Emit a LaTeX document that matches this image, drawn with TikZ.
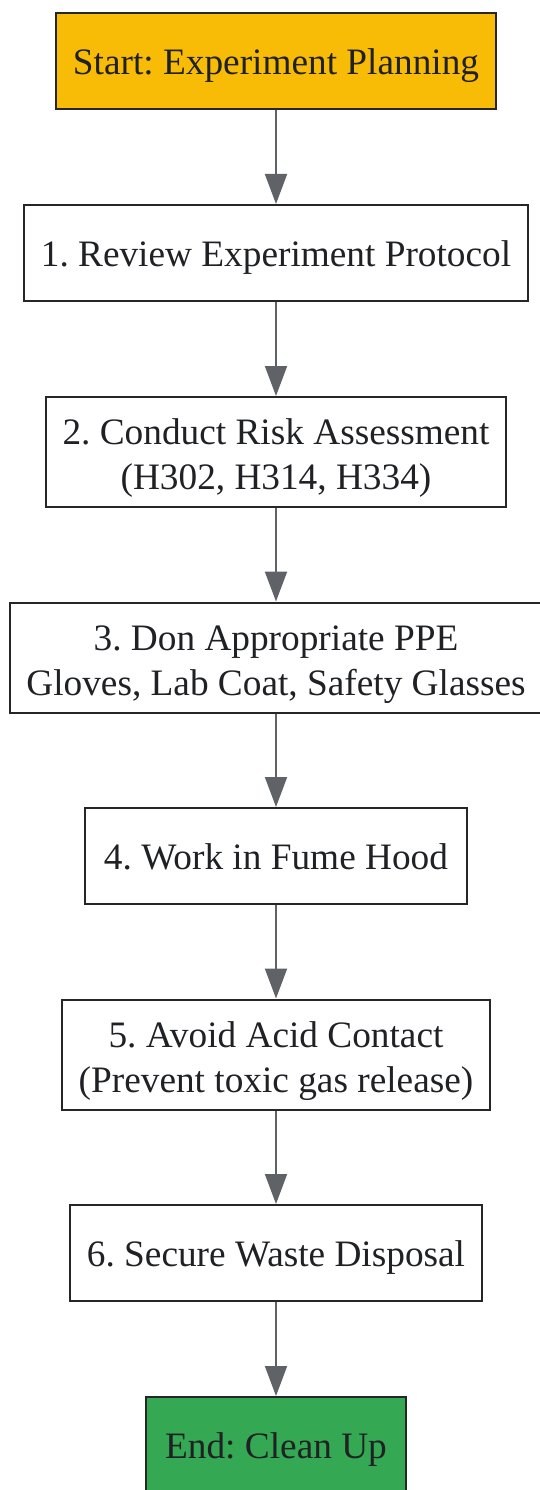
\documentclass[tikz,border=0pt]{standalone}
\usepackage{fontspec}
\setmainfont{Liberation Serif}
\usetikzlibrary{arrows.meta}
\frenchspacing
\definecolor{boxborder}{HTML}{262626}
\definecolor{txt}{HTML}{202124}
\definecolor{arrowgray}{HTML}{5F6368}
\definecolor{startyellow}{HTML}{F9BC06}
\definecolor{endgreen}{HTML}{34A853}
\tikzset{
  stepbox/.style={draw=boxborder, line width=2pt, fill=white, text=txt, align=center,
    font=\fontsize{37.3}{45}\selectfont\frenchspacing, inner sep=0pt, minimum height=96pt,
    text height=27pt, text depth=0pt},
  twoline/.style={minimum height=110pt, text height=75pt},
  flow/.style={draw=arrowgray, line width=2pt, -{Triangle[length=30pt,width=22pt]}, shorten >=0pt}
}
\begin{document}
\begin{tikzpicture}[x=1pt,y=1pt]
\useasboundingbox (0,0) rectangle (540,-1490);
\node[stepbox, fill=startyellow, minimum width=440pt] (s) at (276,-61) {Start: Experiment Planning};
\node[stepbox, minimum width=504pt] (b1) at (276,-253) {1. Review Experiment Protocol};
\node[stepbox, twoline, minimum width=460pt] (b2) at (276,-452) {2. Conduct Risk Assessment\\(H302, H314, H334)};
\node[stepbox, twoline, minimum width=532pt] (b3) at (276,-657.5) {3. Don Appropriate PPE\\Gloves, Lab Coat, Safety Glasses};
\node[stepbox, minimum width=382pt] (b4) at (276,-856) {4. Work in Fume Hood};
\node[stepbox, twoline, minimum width=428pt] (b5) at (276,-1054.5) {5. Avoid Acid Contact\\(Prevent toxic gas release)};
\node[stepbox, minimum width=412pt] (b6) at (276,-1253) {6. Secure Waste Disposal};
\node[stepbox, fill=endgreen, minimum width=260pt] (e) at (276,-1445) {End: Clean Up};
\draw[flow] (s) -- (b1);
\draw[flow] (b1) -- (b2);
\draw[flow] (b2) -- (b3);
\draw[flow] (b3) -- (b4);
\draw[flow] (b4) -- (b5);
\draw[flow] (b5) -- (b6);
\draw[flow] (b6) -- (e);
\end{tikzpicture}
\end{document}
